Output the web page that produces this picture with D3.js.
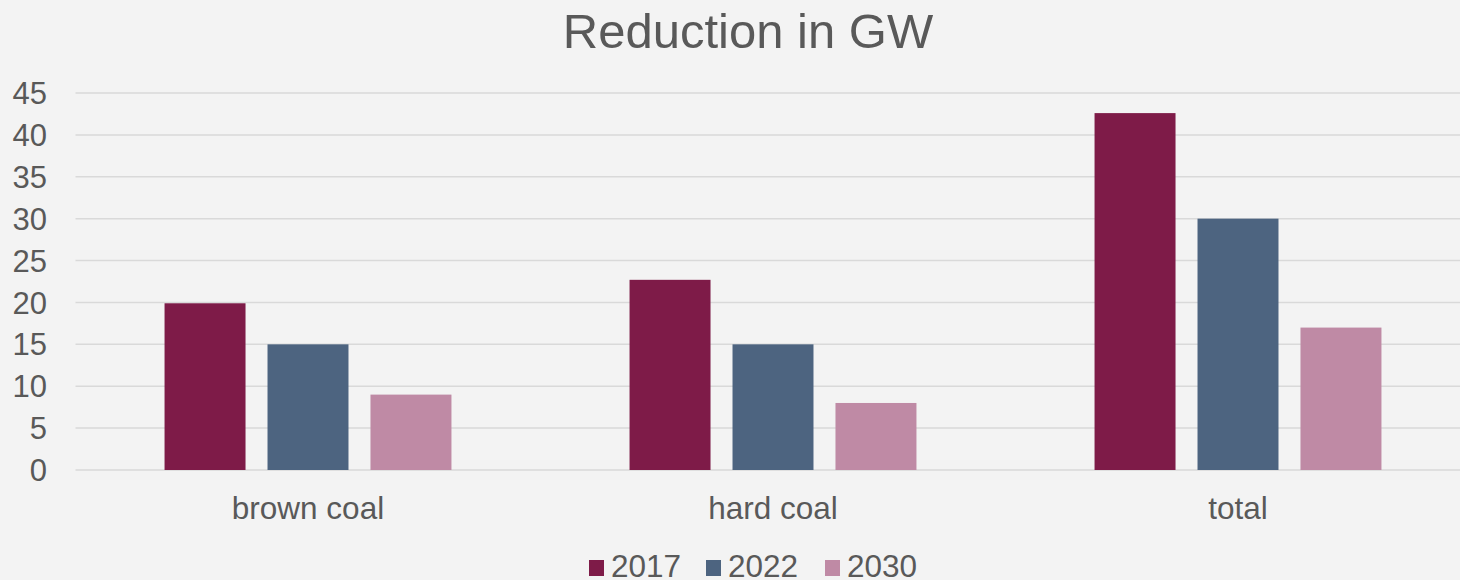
<!DOCTYPE html>
<html>
<head>
<meta charset="utf-8">
<script src="https://cdn.jsdelivr.net/npm/d3@7"></script>
<style>
  body { margin: 0; background: #f3f3f3; }
  svg { display: block; font-family: "Liberation Sans", Arial, sans-serif; }
</style>
</head>
<body>
<svg id="chart" width="1460" height="580"></svg>
<script>
// chart data
const categories = ["brown coal", "hard coal", "total"];
const seriesNames = ["2017", "2022", "2030"];
const values2017 = [19.9, 22.7, 42.6];
const values2022 = [15, 15, 30];
const values2030 = [9, 8, 17];
const yTicks = [0, 5, 10, 15, 20, 25, 30, 35, 40, 45];
const colors = ["#7e1b48", "#4d6480", "#bf8aa5"];

const seriesValues = [values2017, values2022, values2030];
const rows = categories.map((c, i) => ({
  category: c,
  vals: seriesNames.map((s, j) => ({ key: s, value: seriesValues[j][i] }))
}));

const svg = d3.select("#chart");
const width = 1460, height = 580;
const margin = { left: 75.5, right: -10.5, top: 93, bottom: 110 };

svg.append("rect").attr("width", width).attr("height", height).attr("fill", "#f3f3f3");

const x0 = d3.scaleBand()
  .domain(categories)
  .range([margin.left, width - margin.right])
  .paddingInner(0.383)
  .paddingOuter(0.1915);

const x1 = d3.scaleBand()
  .domain(seriesNames)
  .range([0, x0.bandwidth()])
  .paddingInner(0.2136);

const y = d3.scaleLinear()
  .domain([0, 45])
  .range([height - margin.bottom, margin.top]);

// gridlines
svg.append("g")
  .selectAll("line")
  .data(yTicks)
  .enter()
  .append("line")
  .attr("x1", margin.left)
  .attr("x2", width)
  .attr("y1", d => y(d))
  .attr("y2", d => y(d))
  .attr("stroke", "#d9d9d9")
  .attr("stroke-width", 1.5);

// y labels
svg.append("g")
  .selectAll("text")
  .data(yTicks)
  .enter()
  .append("text")
  .attr("x", 47)
  .attr("y", d => y(d))
  .attr("dy", "0.36em")
  .attr("text-anchor", "end")
  .attr("fill", "#595959")
  .style("font-size", "31px")
  .text(d => d);

// bars
const groups = svg.append("g")
  .selectAll("g")
  .data(rows)
  .enter()
  .append("g")
  .attr("transform", d => `translate(${x0(d.category)},0)`);

groups.selectAll("rect")
  .data(d => d.vals)
  .enter()
  .append("rect")
  .attr("x", d => x1(d.key))
  .attr("width", x1.bandwidth())
  .attr("y", d => y(d.value))
  .attr("height", d => y(0) - y(d.value))
  .attr("fill", (d, i) => colors[i]);

// category labels
svg.append("g")
  .selectAll("text")
  .data(categories)
  .enter()
  .append("text")
  .attr("x", d => x0(d) + x0.bandwidth() / 2)
  .attr("y", 519)
  .attr("text-anchor", "middle")
  .attr("fill", "#595959")
  .style("font-size", "31.5px")
  .text(d => d);

// title
svg.append("text")
  .attr("x", 748)
  .attr("y", 48)
  .attr("text-anchor", "middle")
  .attr("fill", "#595959")
  .style("font-size", "49px")
  .text("Reduction in GW");

// legend
const legendX = [589, 706, 825];
const legend = svg.append("g")
  .selectAll("g")
  .data(seriesNames)
  .enter()
  .append("g")
  .attr("transform", (d, i) => `translate(${legendX[i]}, 560)`);

legend.append("rect")
  .attr("width", 15)
  .attr("height", 16)
  .attr("fill", (d, i) => colors[i]);

legend.append("text")
  .attr("x", 22)
  .attr("y", 17)
  .attr("fill", "#595959")
  .style("font-size", "31.5px")
  .text(d => d);
</script>
</body>
</html>
